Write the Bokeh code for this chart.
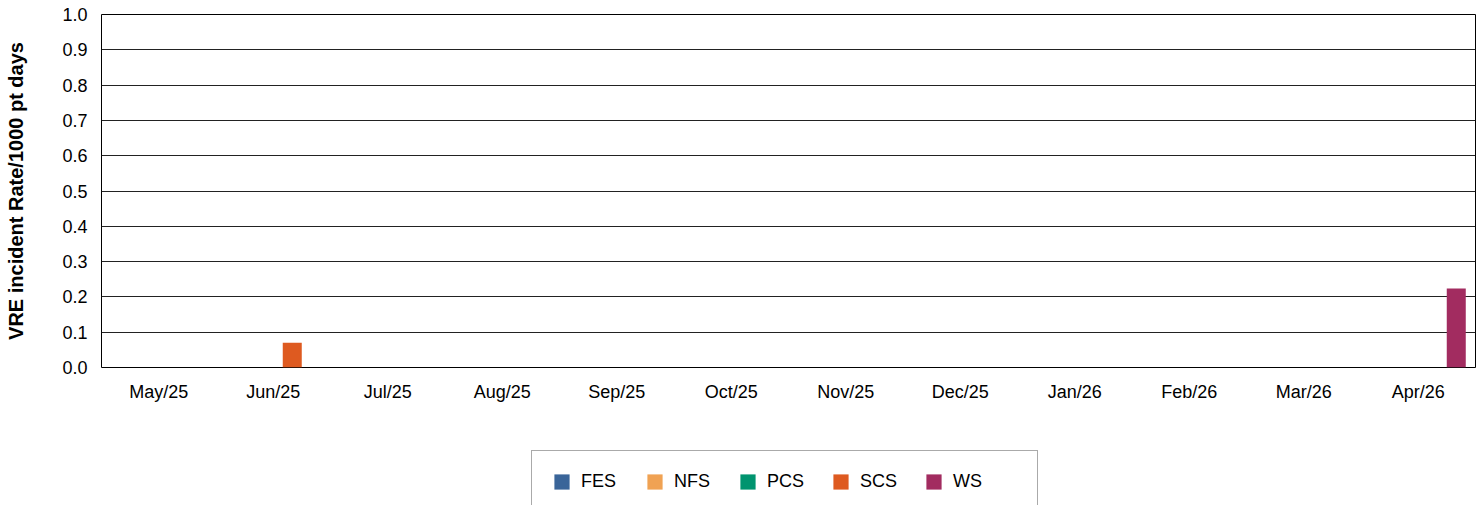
from bokeh.plotting import figure
from bokeh.layouts import column
from bokeh.models import FactorRange, Range1d, Legend, LegendItem, FixedTicker, NumeralTickFormatter, ColumnDataSource
from bokeh.transform import dodge
from bokeh.embed import file_html
from bokeh.resources import INLINE

months = ["May/25", "Jun/25", "Jul/25", "Aug/25", "Sep/25", "Oct/25",
          "Nov/25", "Dec/25", "Jan/26", "Feb/26", "Mar/26", "Apr/26"]
series_names = ["FES", "NFS", "PCS", "SCS", "WS"]
FES = [0, 0, 0, 0, 0, 0, 0, 0, 0, 0, 0, 0]
NFS = [0, 0, 0, 0, 0, 0, 0, 0, 0, 0, 0, 0]
PCS = [0, 0, 0, 0, 0, 0, 0, 0, 0, 0, 0, 0]
SCS = [0, 0.07, 0, 0, 0, 0, 0, 0, 0, 0, 0, 0]
WS = [0, 0, 0, 0, 0, 0, 0, 0, 0, 0, 0, 0.224]
colors = ["#3A6599", "#F0A253", "#00946F", "#DE5A20", "#A22C60"]
y_ticks = [0.0, 0.1, 0.2, 0.3, 0.4, 0.5, 0.6, 0.7, 0.8, 0.9, 1.0]

source = ColumnDataSource(dict(month=months, FES=FES, NFS=NFS, PCS=PCS, SCS=SCS, WS=WS))

FONT = "Liberation Sans"

p = figure(width=1481, height=420, x_range=FactorRange(*months, range_padding=0),
           y_range=Range1d(0, 1), output_backend="svg", toolbar_location=None,
           min_border_left=101, min_border_right=6, min_border_top=14, min_border_bottom=53)

bw = 0.166
offsets = [-2 * bw, -bw, 0, bw, 2 * bw]
for name, col, off in zip(series_names, colors, offsets):
    p.vbar(x=dodge("month", off, range=p.x_range), top=name, width=bw,
           source=source, fill_color=col, line_color=None)

p.outline_line_color = "black"
p.outline_line_width = 1
p.xgrid.grid_line_color = None
p.ygrid.grid_line_color = "#222222"
p.ygrid.ticker = FixedTicker(ticks=y_ticks)

p.yaxis.ticker = FixedTicker(ticks=y_ticks)
p.yaxis.formatter = NumeralTickFormatter(format="0.0")
p.yaxis.axis_label = "VRE incident Rate/1000 pt days"
p.yaxis.axis_label_text_font = FONT
p.yaxis.axis_label_text_font_style = "bold"
p.yaxis.axis_label_text_font_size = "20px"
p.yaxis.axis_label_text_color = "black"
p.yaxis.axis_label_standoff = 32

for ax in (p.xaxis, p.yaxis):
    ax.axis_line_color = None
    ax.major_tick_line_color = None
    ax.minor_tick_line_color = None
    ax.major_tick_out = 0
    ax.major_tick_in = 0
    ax.minor_tick_out = 0
    ax.major_label_text_font = FONT
    ax.major_label_text_font_size = "18px"
    ax.major_label_text_color = "black"
p.yaxis.major_label_standoff = 14
p.xaxis.major_label_standoff = 14

# legend panel below the chart (the legend box runs past the bottom edge, as in the original)
lg = figure(width=1481, height=85, x_range=Range1d(0, 1), y_range=Range1d(0, 1),
            output_backend="svg", toolbar_location=None,
            min_border_left=0, min_border_right=0, min_border_top=0, min_border_bottom=0,
            x_axis_location=None, y_axis_location=None)
lg.outline_line_color = None
lg.xgrid.grid_line_color = None
lg.ygrid.grid_line_color = None
# off-screen placeholder glyphs, only used for the legend swatches
dummy = ColumnDataSource(dict(x=[-5.0], top=[-5.0]))
items = []
for name, col in zip(series_names, colors):
    r = lg.vbar(x="x", top="top", bottom=-6.0, width=0.1, source=dummy, fill_color=col, line_color=None)
    items.append(LegendItem(label=name, renderers=[r]))

legend = Legend(items=items, orientation="horizontal", location=(430, -8),
                margin=0, padding=20, spacing=0, glyph_width=19, glyph_height=19,
                label_width=64, label_height=16, label_standoff=10,
                label_text_font=FONT, label_text_font_size="18px", label_text_color="black",
                border_line_color="#555555", border_line_width=1, background_fill_alpha=1)
lg.add_layout(legend, "center")

layout = column(p, lg, spacing=0)
open("out.html", "w").write(file_html(layout, INLINE))
